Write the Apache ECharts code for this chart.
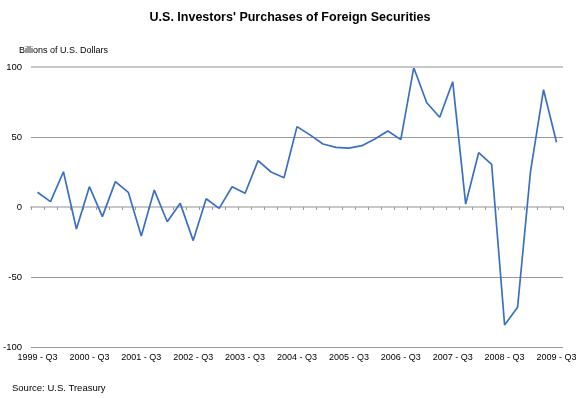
<!DOCTYPE html>
<html>
<head>
    <meta charset="UTF-8">
    <title>U.S. Investors' Purchases of Foreign Securities</title>
    <script type="text/javascript" src="https://cdn.jsdelivr.net/npm/echarts@6/dist/echarts.min.js"></script>
    <style>
        html, body { margin: 0; padding: 0; background: #fff; }
    </style>
</head>
<body>
<div id="chart" style="width:580px; height:398px;"></div>

<script>
    // 季度 1999 Q3 - 2009 Q3
    var quarters = [
        '1999 - Q3', '1999 - Q4', '2000 - Q1', '2000 - Q2',
        '2000 - Q3', '2000 - Q4', '2001 - Q1', '2001 - Q2',
        '2001 - Q3', '2001 - Q4', '2002 - Q1', '2002 - Q2',
        '2002 - Q3', '2002 - Q4', '2003 - Q1', '2003 - Q2',
        '2003 - Q3', '2003 - Q4', '2004 - Q1', '2004 - Q2',
        '2004 - Q3', '2004 - Q4', '2005 - Q1', '2005 - Q2',
        '2005 - Q3', '2005 - Q4', '2006 - Q1', '2006 - Q2',
        '2006 - Q3', '2006 - Q4', '2007 - Q1', '2007 - Q2',
        '2007 - Q3', '2007 - Q4', '2008 - Q1', '2008 - Q2',
        '2008 - Q3', '2008 - Q4', '2009 - Q1', '2009 - Q2',
        '2009 - Q3'
    ];
    // billions of dollars
    var purchases = [
        10.5, 3.8, 25.2, -15.7, 14.5, -6.9, 18.1, 10.5,
        -20.7, 12.1, -10.5, 2.6, -24, 5.9, -1, 14.5,
        9.8, 33.1, 25, 20.9, 57.4, 51.5, 45, 42.6,
        42.1, 43.8, 48.6, 54.3, 48.1, 99.5, 74.5, 64.1,
        89.5, 2.1, 38.8, 30.5, -84.3, -71.6, 25.7, 83.8,
        46.2
    ];
    var yTicks = [-100, -50, 0, 50, 100];

    var font = 'Liberation Sans';

    var option = {
        animation: false,
        title: {
            text: "U.S. Investors' Purchases of Foreign Securities",
            left: 'center',
            top: 6,
            textStyle: { fontFamily: font, fontSize: 12.5, fontWeight: 'bold', color: '#000' }
        },
        graphic: [
            {
                type: 'text', left: 19, top: 46,
                style: { text: 'Billions of U.S. Dollars', fontFamily: font, fontSize: 9, fill: '#000' }
            },
            {
                type: 'text', left: 12, top: 383,
                style: { text: 'Source: U.S. Treasury', fontFamily: font, fontSize: 9.5, fill: '#000' }
            }
        ],
        grid: { left: 27, right: 17, top: 67, bottom: 51 },
        xAxis: [
            {
                type: 'category',
                data: quarters,
                boundaryGap: true,
                axisLine: { onZero: true, lineStyle: { color: '#c8c8c8', width: 2 } },
                axisTick: { show: true, interval: 0, length: 3, lineStyle: { color: '#999' } },
                axisLabel: { show: false }
            },
            {
                type: 'category',
                data: quarters,
                boundaryGap: true,
                position: 'bottom',
                axisLine: { show: false, onZero: false },
                axisTick: { show: false },
                axisLabel: {
                    interval: function (i) { return i % 4 === 0; },
                    margin: 6,
                    fontFamily: font, fontSize: 9, color: '#000'
                }
            }
        ],
        yAxis: {
            type: 'value',
            min: yTicks[0],
            max: yTicks[yTicks.length - 1],
            interval: 50,
            axisLine: { show: false },
            axisTick: { show: false },
            axisLabel: { margin: 9, fontFamily: font, fontSize: 9.5, color: '#000' },
            splitLine: { lineStyle: { color: ['#999', '#999', '#c8c8c8', '#999', '#c8c8c8'], width: 1 } }
        },
        series: [
            {
                name: 'purchases',
                type: 'line',
                data: purchases,
                symbol: 'none',
                lineStyle: { color: '#3b6fc4', width: 1.7 },
                markLine: {
                    silent: true,
                    symbol: 'none',
                    label: { show: false },
                    lineStyle: { color: '#c8c8c8', width: 2, type: 'solid' },
                    data: [{ yAxis: 100 }]
                },
                z: 3
            }
        ]
    };

    var myChart = echarts.init(document.getElementById('chart'));
    myChart.setOption(option);
</script>
</body>
</html>
